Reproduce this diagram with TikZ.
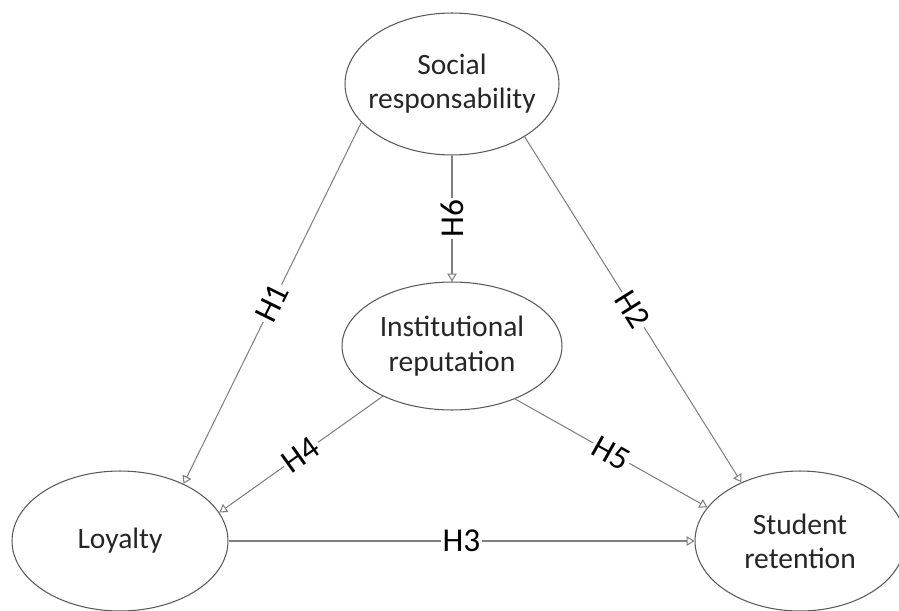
\documentclass[tikz,border=0pt]{standalone}
\usepackage{fontspec}
\setmainfont{Carlito}
\usetikzlibrary{shapes.geometric,arrows.meta}
\begin{document}
\begin{tikzpicture}[x=0.02cm, y=-0.02cm,
  construct/.style={draw=black!65, line width=0.6pt, ellipse, inner sep=0pt},
  ctext/.style={align=center, font=\fontsize{16.8}{19.5}\selectfont, text=black!85},
  path/.style={draw=black!50, line width=0.6pt, -{Triangle[open, length=4.5pt, width=5.5pt]}},
  hyp/.style={fill=white, inner sep=1pt, sloped, pos=0.5, font=\fontsize{19}{22}\selectfont}]
\useasboundingbox (0,0) rectangle (899,611);
\node[construct, minimum width=4.28cm, minimum height=2.84cm] (s) at (452,84) {};
\node[construct, minimum width=4.4cm, minimum height=2.56cm] (i) at (452,346) {};
\node[construct, minimum width=4.32cm, minimum height=2.8cm] (l) at (120,541) {};
\node[construct, minimum width=4.2cm, minimum height=2.8cm] (r) at (800,541) {};
\node[ctext] (st) at (s) {Social\\responsability};
\node[ctext] (it) at (i) {Institutional\\reputation};
\node[ctext] (lt) at (l) {Loyalty};
\node[ctext] (rt) at (r) {Student\\retention};
\draw[path] (s.203) -- node[hyp] {H1} (l.42);
\draw[path] (s.324) -- node[hyp] {H2} (r.135.5);
\draw[path] (l.east) -- node[hyp] {H3} (r.west);
\draw[path] (i.216.5) -- node[hyp] {H4} (l.16.6);
\draw[path] (i.320) -- node[hyp] {H5} (r.160.3);
\draw[path] (s.south) -- node[hyp, sloped=false, rotate=90] {H6} (i.north);
\end{tikzpicture}
\end{document}
